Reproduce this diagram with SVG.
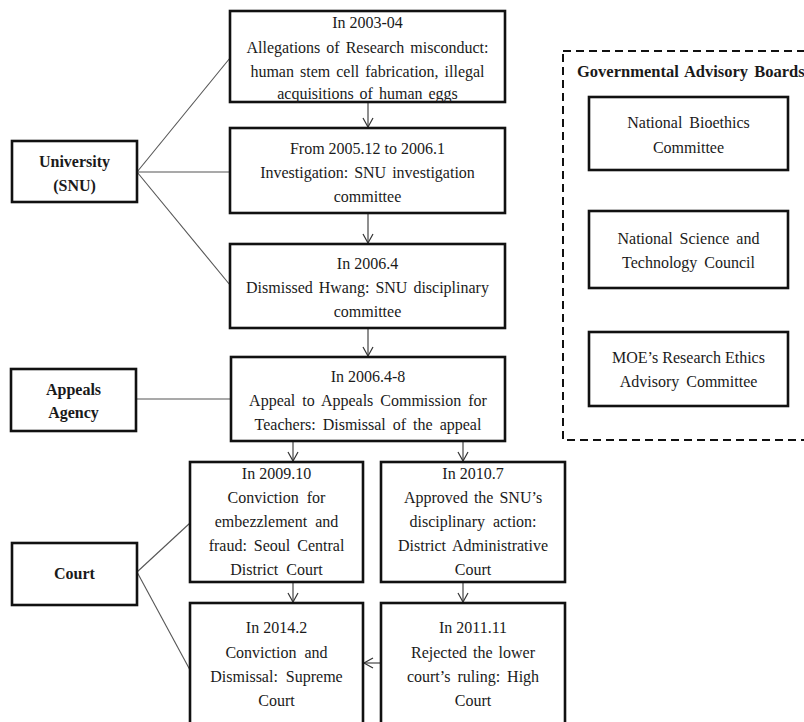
<svg xmlns="http://www.w3.org/2000/svg" width="804" height="722" viewBox="0 0 804 722">
<defs>
<marker id="arr" markerWidth="12" markerHeight="12" refX="10" refY="6" orient="auto" markerUnits="userSpaceOnUse">
<path d="M1,1 L10,6 L1,11" fill="none" stroke="#333" stroke-width="1.2"/>
</marker>
<style>
.box{fill:#fff;stroke:#111;stroke-width:2.6}
.t{font-family:"Liberation Serif","Times New Roman",serif;font-size:16px;fill:#1a1a1a;text-anchor:middle}
.b{font-family:"Liberation Serif","Times New Roman",serif;font-size:16px;font-weight:bold;fill:#1a1a1a;text-anchor:middle}
.ln{stroke:#555;stroke-width:1.1;fill:none}
.ar{stroke:#333;stroke-width:1.1;fill:none;marker-end:url(#arr)}
.dash{fill:none;stroke:#111;stroke-width:2;stroke-dasharray:8 5}
</style>
</defs>
<rect width="804" height="722" fill="#fff"/>
<g id="connectors">
<line class="ln" x1="137" y1="172" x2="230" y2="58"/>
<line class="ln" x1="137" y1="172" x2="230" y2="172"/>
<line class="ln" x1="137" y1="172" x2="230" y2="285"/>
<line class="ln" x1="136" y1="399" x2="231" y2="399"/>
<line class="ln" x1="137" y1="572" x2="190" y2="523"/>
<line class="ln" x1="137" y1="572" x2="190" y2="670"/>
<line class="ar" x1="368" y1="102" x2="368" y2="127"/>
<line class="ar" x1="368" y1="213" x2="368" y2="243"/>
<line class="ar" x1="368" y1="328" x2="368" y2="356"/>
<line class="ar" x1="293" y1="441" x2="293" y2="461"/>
<line class="ar" x1="463" y1="441" x2="463" y2="461"/>
<line class="ar" x1="293" y1="582" x2="293" y2="602"/>
<line class="ar" x1="463" y1="582" x2="463" y2="602"/>
<line class="ar" x1="381" y1="663" x2="364" y2="663"/>
</g>
<g id="n-2003">
<rect class="box" x="230" y="11" width="275" height="91"/>
<text class="t" x="367.5" y="28">In 2003-04</text>
<text class="t" x="367.5" y="53" word-spacing="2">Allegations of Research misconduct:</text>
<text class="t" x="367.5" y="77" word-spacing="2">human stem cell fabrication, illegal</text>
<text class="t" x="367.5" y="99" word-spacing="2">acquisitions of human eggs</text>
</g>
<g id="n-2005">
<rect class="box" x="230" y="128" width="275" height="85"/>
<text class="t" x="367.5" y="154">From 2005.12 to 2006.1</text>
<text class="t" x="367.5" y="178" word-spacing="2">Investigation: SNU investigation</text>
<text class="t" x="367.5" y="202">committee</text>
</g>
<g id="n-2006-4">
<rect class="box" x="230" y="244" width="275" height="84"/>
<text class="t" x="367.5" y="269">In 2006.4</text>
<text class="t" x="367.5" y="293" word-spacing="2">Dismissed Hwang: SNU disciplinary</text>
<text class="t" x="367.5" y="317">committee</text>
</g>
<g id="n-2006-48">
<rect class="box" x="231" y="357" width="274" height="84"/>
<text class="t" x="368" y="382">In 2006.4-8</text>
<text class="t" x="368" y="406" word-spacing="3">Appeal to Appeals Commission for</text>
<text class="t" x="368" y="430" word-spacing="3">Teachers: Dismissal of the appeal</text>
</g>
<g id="n-2009">
<rect class="box" x="190" y="462" width="173" height="120"/>
<text class="t" x="276.5" y="479">In 2009.10</text>
<text class="t" x="276.5" y="503" word-spacing="4">Conviction for</text>
<text class="t" x="276.5" y="527" word-spacing="4">embezzlement and</text>
<text class="t" x="276.5" y="551" word-spacing="3">fraud: Seoul Central</text>
<text class="t" x="276.5" y="575" word-spacing="4">District Court</text>
</g>
<g id="n-2010">
<rect class="box" x="381" y="462" width="184" height="120"/>
<text class="t" x="473" y="479">In 2010.7</text>
<text class="t" x="473" y="503" word-spacing="2">Approved the SNU’s</text>
<text class="t" x="473" y="527" word-spacing="4">disciplinary action:</text>
<text class="t" x="473" y="551" word-spacing="3">District Administrative</text>
<text class="t" x="473" y="575">Court</text>
</g>
<g id="n-2014">
<rect class="box" x="190" y="603" width="173" height="130"/>
<text class="t" x="276.5" y="633">In 2014.2</text>
<text class="t" x="276.5" y="658" word-spacing="4">Conviction and</text>
<text class="t" x="276.5" y="682" word-spacing="4">Dismissal: Supreme</text>
<text class="t" x="276.5" y="706">Court</text>
</g>
<g id="n-2011">
<rect class="box" x="381" y="603" width="184" height="130"/>
<text class="t" x="473" y="633">In 2011.11</text>
<text class="t" x="473" y="658" word-spacing="2">Rejected the lower</text>
<text class="t" x="473" y="682" word-spacing="3">court’s ruling: High</text>
<text class="t" x="473" y="706">Court</text>
</g>
<g id="n-university">
<rect class="box" x="12" y="141" width="125" height="61"/>
<text class="b" x="74.5" y="167">University</text>
<text class="b" x="74.5" y="191">(SNU)</text>
</g>
<g id="n-appeals">
<rect class="box" x="11" y="369" width="125" height="62"/>
<text class="b" x="73.5" y="395">Appeals</text>
<text class="b" x="73.5" y="418">Agency</text>
</g>
<g id="n-court">
<rect class="box" x="12" y="543" width="125" height="62"/>
<text class="b" x="74.5" y="579">Court</text>
</g>
<g id="n-advisory">
<rect class="dash" x="563" y="51" width="260" height="389"/>
<text class="b" x="577" y="77" style="text-anchor:start;font-size:16.5px" word-spacing="2">Governmental Advisory Boards</text>
</g>
<g id="n-bioethics">
<rect class="box" x="589" y="97" width="199" height="73"/>
<text class="t" x="688.5" y="128" word-spacing="3">National Bioethics</text>
<text class="t" x="688.5" y="153">Committee</text>
</g>
<g id="n-nstc">
<rect class="box" x="589" y="211" width="199" height="77"/>
<text class="t" x="688.5" y="244" word-spacing="3">National Science and</text>
<text class="t" x="688.5" y="268" word-spacing="3">Technology Council</text>
</g>
<g id="n-moe">
<rect class="box" x="589" y="332" width="199" height="74"/>
<text class="t" x="688.5" y="363">MOE’s Research Ethics</text>
<text class="t" x="688.5" y="387" word-spacing="3">Advisory Committee</text>
</g>
</svg>
